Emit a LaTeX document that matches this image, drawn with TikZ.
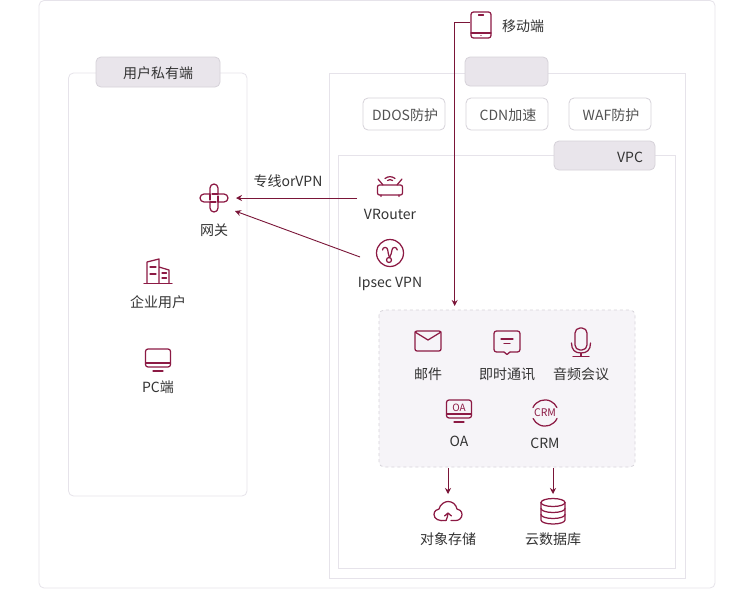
\documentclass[tikz,border=0pt]{standalone}
\usepackage{fontspec}
\setmainfont{Noto Sans CJK SC}
\usepackage{xcolor}
\usetikzlibrary{arrows,arrows.meta,positioning,calc}
\definecolor{wine}{HTML}{8C1A44}
\definecolor{wineline}{HTML}{7A1538}
\definecolor{frameline}{HTML}{E6E3EA}
\definecolor{pillfill}{HTML}{E9E5EB}
\definecolor{pillline}{HTML}{D6D2D9}
\definecolor{panelfill}{HTML}{F6F4F8}
\definecolor{labelcol}{HTML}{333333}
\tikzset{
  frame/.style={draw=frameline, line width=.8pt},
  pill/.style={draw=pillline, fill=pillfill, line width=.8pt, rounded corners=5pt},
  svcbox/.style={draw=pillline, fill=white, line width=.8pt, rounded corners=5pt},
  lbl/.style={text=labelcol, font=\fontsize{14}{16}\selectfont, inner sep=0pt},
  svclbl/.style={text=labelcol!85!white, font=\fontsize{14}{16}\selectfont, inner sep=0pt},
  icon/.style={draw=wine, line width=1.25pt, line join=round, line cap=round},
  link/.style={draw=wineline, line width=.9pt, -{Stealth[length=6pt,width=6pt]}},
}
\begin{document}
\begin{tikzpicture}[x=1pt,y=-1pt]
\useasboundingbox (0,0) rectangle (754,592);
\fill[white] (0,0) rectangle (754,592);
% frames
\draw[frame, rounded corners=5pt] (39,.5) rectangle (715,588);
\draw[frame, rounded corners=5pt] (68.5,73) rectangle (247,496);
\draw[frame] (329,73) rectangle (685.5,578);
\draw[frame] (338.5,155) rectangle (675.5,568);
\draw[draw=frameline!85!gray, fill=panelfill, dashed, line width=.8pt, rounded corners=5pt] (379,310) rectangle (635,467);
% title pills
\draw[pill] (96,57) rectangle (220,87); \node[lbl] (private) at (158,73) {用户私有端};
\draw[pill] (465,57) rectangle (548,86);
\draw[pill] (554,141) rectangle (655,170); \node[lbl] (vpc) at (630,157) {VPC};
% service boxes
\foreach \x/\name/\txt in {363/ddos/DDOS防护,466/cdn/CDN加速,569/waf/WAF防护} {
  \draw[svcbox] (\x,98) rectangle ++(82,32);
  \node[svclbl] (\name) at (\x+42,115) {\txt};
}
% labels under the icons
\foreach \x/\y/\name/\txt in {214/230/gwlbl/网关,390/214/vrlbl/VRouter,390/284/iplbl/Ipsec VPN,158/302/entlbl/企业用户,158/387/pclbl/PC端,
  523/26/mobile/移动端,428/374/maillbl/邮件,507/374/imlbl/即时通讯,581/374/audiolbl/音频会议,459/441/oalbl/OA,545/443/crmlbl/CRM,
  448/539/osslbl/对象存储,553/539/dblbl/云数据库,288/181/linelbl/专线orVPN}
  \node[lbl] (\name) at (\x,\y) {\txt};
% gateway
\begin{scope}[shift={(214,198)}]
\draw[icon] (-4,-4) -- (-4,-10) arc (180:360:4) -- (4,-4) -- (10,-4) arc (-90:90:4) -- (4,4) -- (4,10) arc (0:180:4) -- (-4,4) -- (-10,4) arc (90:270:4) -- (-4,-4);
\draw[icon] (-4,-4) -- (-4,2) (4,4) -- (4,-2) (-4,4) -- (2,4) (4,-4) -- (-2,-4);
\end{scope}
% vrouter
\begin{scope}[shift={(390,187)}]
\draw[icon, rounded corners=2pt] (-12.5,-2) rectangle (12.5,8);
\draw[icon] (-9,8) -- (-9,9.5) (9,8) -- (9,9.5) (-12,-8) -- (-7,-2) (12,-8) -- (7,-2);
\draw[icon] (-5,-8.5) arc (-130:-50:7.8) (-2.5,-6.5) arc (-130:-50:3.9);
\end{scope}
% ipsec
\begin{scope}[shift={(390,253)}]
\draw[icon] (0,0) circle (13.5);
\draw[icon] (-7.5,-3) arc (180:360:2.6) .. controls (-2.3,0) and (-1,2) .. (-.5,4.5);
\draw[icon] (2,-3) arc (180:360:2.6) (2,-3) .. controls (2,0) and (.5,2) .. (-.5,4.5);
\draw[icon] (-1,7) circle (2.5);
\end{scope}
% enterprise
\begin{scope}[shift={(158,272)}]
\draw[icon] (-11,11.5) -- (-11,-10) -- (1,-13) -- (1,11.5) (1,-5) -- (11,-2) -- (11,11.5);
\draw[icon] (-14,11.5) -- (14,11.5);
\draw[icon] (-8,-5) -- (-2,-5) (-8,2) -- (-2,2) (4,1) -- (8.5,1) (4,6) -- (8.5,6);
\end{scope}
% pc
\begin{scope}[shift={(158,359)}]
\draw[icon, rounded corners=2.5pt] (-12.5,-10) rectangle (12.5,8);
\draw[icon] (-12.5,4) -- (12.5,4) (-5,12) -- (5,12);
\end{scope}
% phone
\begin{scope}[shift={(481,25)}]
\draw[icon, rounded corners=2.5pt] (-10,-13) rectangle (10,13);
\draw[icon] (-10,8) -- (10,8) (-2.5,-10) -- (2.5,-10) (0,10.5) -- (0.1,10.5);
\end{scope}
% mail
\begin{scope}[shift={(428,341)}]
\draw[icon, rounded corners=2pt] (-13,-10) rectangle (13,10);
\draw[icon] (-13,-9) -- (0,-1) -- (13,-9);
\end{scope}
% chat
\begin{scope}[shift={(507,341)}]
\draw[icon, rounded corners=2.5pt] (-3,11) -- (-13,11) -- (-13,-10) -- (13,-10) -- (13,11) -- (3,11);
\draw[icon] (-3,11) -- (0,13.5) -- (3,11);
\draw[icon] (-6,-2) -- (6,-2) (-3,2.5) -- (3,2.5);
\end{scope}
% mic
\begin{scope}[shift={(581,342)}]
\draw[icon, rounded corners=5pt] (-6,-14) rectangle (6,8);
\draw[icon] (-9.5,1) .. controls (-9.5,8) and (-6,11) .. (0,11) .. controls (6,11) and (9.5,8) .. (9.5,1);
\draw[icon] (0,11) -- (0,14.5) (-8,14.5) -- (8,14.5);
\end{scope}
% oa
\begin{scope}[shift={(459,410)}]
\draw[icon, rounded corners=2.5pt] (-12.5,-10) rectangle (12.5,8);
\draw[icon] (-12.5,4) -- (12.5,4) (-5,12) -- (5,12);
\node[text=wine, font=\fontsize{10}{10}\selectfont, inner sep=0pt] (oatag) at (0,-2.5) {OA};
\end{scope}
% crm
\begin{scope}[shift={(545,413)}]
\draw[icon] (-12,-5.5) arc (-155:-25:13.2) (12,5.5) arc (25:155:13.2);
\node[text=wine, font=\fontsize{10.5}{11}\selectfont, inner sep=0pt] (crmtag) at (0,0) {CRM};
\end{scope}
% cloud
\begin{scope}[shift={(448,511)}]
\draw[icon] (-2,9.5) .. controls (-9,10.5) and (-14,8) .. (-14,3.5) .. controls (-14,0) and (-11,-2) .. (-9,-2) .. controls (-8,-7) and (-3,-9.5) .. (0,-9.5) .. controls (4,-9.5) and (8,-7) .. (9,-2) .. controls (11,-2) and (14,0) .. (14,3.5) .. controls (14,7) and (11,9.5) .. (8,9.5) -- (3,9.5);
\draw[icon] (-2,9.5) .. controls (-1,7) and (0,5) .. (0,2) (-3.5,5) -- (0,2) -- (3.5,5);
\end{scope}
% database
\begin{scope}[shift={(553,511)}]
\draw[icon] (0,-8.5) ellipse (12 and 4);
\draw[icon] (-12,-8.5) -- (-12,9) arc (180:0:12 and 4) -- (12,-8.5);
\draw[icon] (-12,-2.5) arc (180:0:12 and 4) (-12,3.5) arc (180:0:12 and 4);
\end{scope}
% connectors
\coordinate (vrout) at (357,198); \coordinate (gwin) at (236,198);
\coordinate (ipout) at (360,257); \coordinate (gwinb) at (235,211);
\coordinate (phonel) at (470,22); \coordinate (panelin) at (454.7,306);
\coordinate (osstop) at (448,468); \coordinate (ossin) at (448,494);
\coordinate (dbtop) at (553,468); \coordinate (dbin) at (553,494);
\draw[link] (vrout) -- (gwin);
\draw[link] (ipout) -- (gwinb);
\draw[link] (phonel) -| (panelin);
\draw[link] (osstop) -- (ossin);
\draw[link] (dbtop) -- (dbin);
\end{tikzpicture}
\end{document}
